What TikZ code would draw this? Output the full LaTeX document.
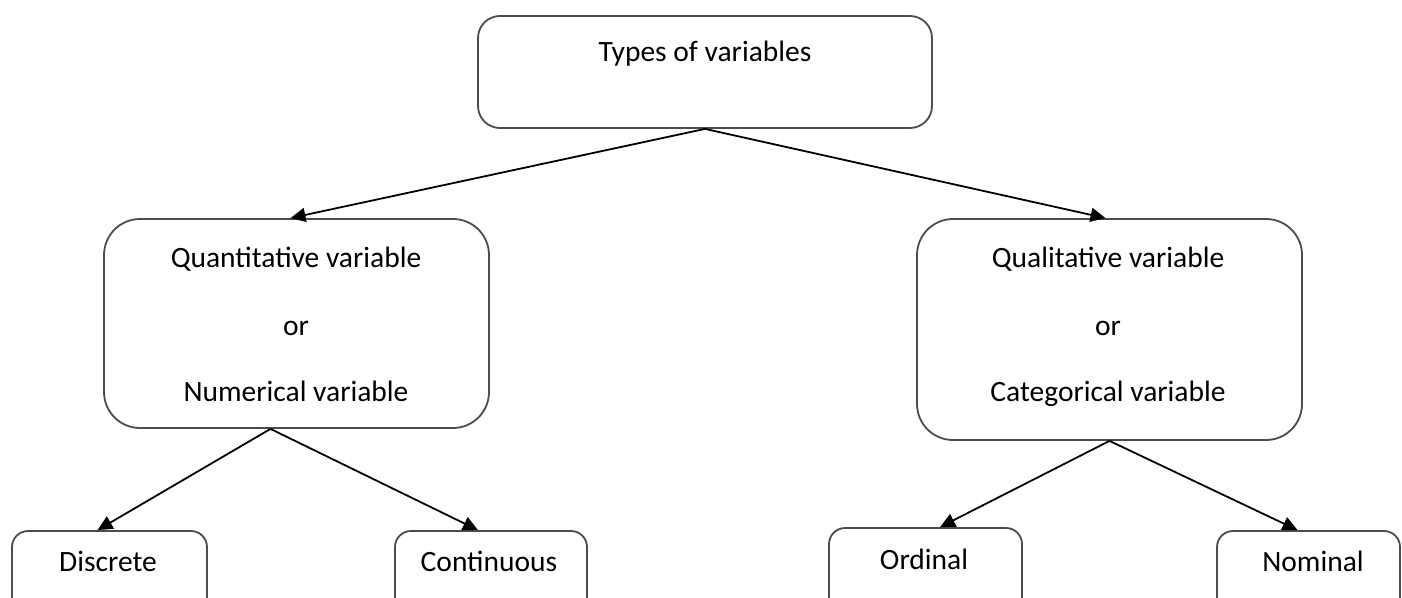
\documentclass[tikz,border=0pt]{standalone}
\usepackage{fontspec}
\setmainfont{Carlito}
\usetikzlibrary{arrows.meta}

\tikzset{
  varbox/.style={draw=black!70, line width=1.8pt, fill=white},
  vartext/.style={inner sep=0pt, text height=22pt, text depth=4pt, font=\fontsize{29.5}{35}\selectfont},
  varedge/.style={line width=1.8pt, -{Triangle[length=15pt,width=14pt]}}
}

\begin{document}
\begin{tikzpicture}[x=1pt,y=-1pt]
\useasboundingbox (0,0) rectangle (1402,597);
\clip (0,0) rectangle (1402,597);

\node[varbox, rounded corners=22pt, minimum width=454pt, minimum height=112pt] (types) at (705,72) {};% Top box
\node[varbox, rounded corners=36pt, minimum width=385pt, minimum height=209pt] (quant) at (296.5,323.5) {};% Left box
\node[varbox, rounded corners=36pt, minimum width=385pt, minimum height=221pt] (qual) at (1109.5,329.5) {};% Right box
\node[varbox, rounded corners=16pt, minimum width=195pt, minimum height=120pt] (discrete) at (109.5,591) {};
\node[varbox, rounded corners=16pt, minimum width=192pt, minimum height=120pt] (continuous) at (491,591) {};
\node[varbox, rounded corners=16pt, minimum width=193pt, minimum height=120pt] (ordinal) at (925.5,588) {};
\node[varbox, rounded corners=16pt, minimum width=183pt, minimum height=120pt] (nominal) at (1308.5,591) {};

% Labels
\node[vartext] (typesT) at (705,52) {Types of variables};
\node[vartext] (quantA) at (296,258) {Quantitative variable};
\node[vartext] (quantB) at (296,326) {or};
\node[vartext] (quantC) at (296,392) {Numerical variable};
\node[vartext] (qualA) at (1108,258) {Qualitative variable};
\node[vartext] (qualB) at (1108,326) {or};
\node[vartext] (qualC) at (1108,392) {Categorical variable};
\node[vartext] (discreteT) at (108,562) {Discrete};
\node[vartext] (continuousT) at (489,562) {Continuous};
\node[vartext] (ordinalT) at (924,560) {Ordinal};
\node[vartext] (nominalT) at (1313,562) {Nominal};

% Arrows
\draw[varedge] (types.south) -- ([xshift=-6pt]quant.north);
\draw[varedge] (types.south) -- ([xshift=-4pt]qual.north);
\draw[varedge] ([xshift=-26pt]quant.south) -- ([xshift=-12pt]discrete.north);
\draw[varedge] ([xshift=-26pt]quant.south) -- ([xshift=-13pt]continuous.north);
\draw[varedge] (qual.south) -- ([xshift=14.5pt]ordinal.north);
\draw[varedge] (qual.south) -- ([xshift=-11pt]nominal.north);
\end{tikzpicture}
\end{document}
